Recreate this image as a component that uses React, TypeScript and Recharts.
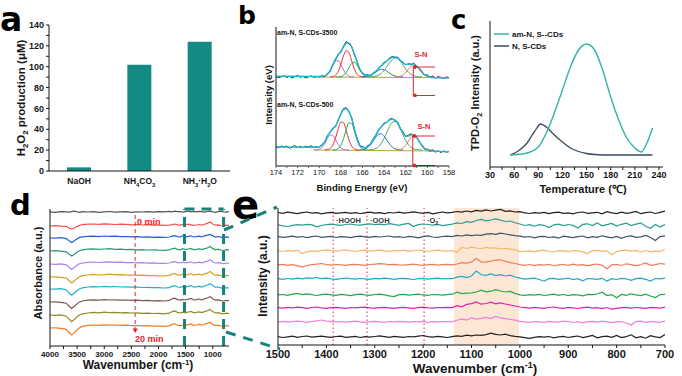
import React from 'react';
import { BarChart, Bar, LineChart, Line, XAxis, YAxis, ReferenceLine, ReferenceArea, ReferenceDot } from 'recharts';

const FONT = '"Liberation Sans", Arial, Helvetica, sans-serif';
const INK = '#151515';
type Pt = [number, number];

/* ---------------- panel a ---------------- */
const aCategories = ['NaOH', 'NH4CO3', 'NH3·H2O'];
const aProduction = [3.5, 102, 124];
const aYTicks = [0, 10, 20, 30, 40, 50, 60, 70, 80, 90, 100, 110, 120, 130, 140];

/* ---------------- panel b ---------------- */
const bXTicks = [158, 159, 160, 161, 162, 163, 164, 165, 166, 167, 168, 169, 170, 171, 172, 173, 174];
const bGrid = [174, 173.75, 173.5, 173.25, 173, 172.75, 172.5, 172.25, 172, 171.75, 171.5, 171.25, 171, 170.75, 170.5, 170.25, 170,
  169.75, 169.5, 169.25, 169, 168.75, 168.5, 168.25, 168, 167.75, 167.5, 167.25, 167, 166.75, 166.5, 166.25, 166,
  165.75, 165.5, 165.25, 165, 164.75, 164.5, 164.25, 164, 163.75, 163.5, 163.25, 163, 162.75, 162.5, 162.25, 162,
  161.75, 161.5, 161.25, 161, 160.75, 160.5, 160.25, 160, 159.75, 159.5, 159.25, 159, 158.75, 158.5, 158.25, 158];
const bTopMeasured = [0.5, -0.8, 0.3, 1.2, -0.5, 0.8, -1.0, 0.4, 1.5, -0.3, 0.6, -0.9, 0.2, 1.1, -0.4, 0.7, 0.1,
  1.3, 0.2, 3.5, 5.2, 12.5, 17, 23, 24.5, 31, 35.5, 33, 30.5, 22, 15.8, 7, 4.2,
  2.0, 2.2, 1.0, 4.4, 5.2, 9.5, 10.8, 14.8, 15.5, 19, 20.5, 19.4, 20, 16, 15, 12,
  13.4, 12.4, 14, 10.5, 9, 5.5, 1.8, 2.2, -0.5, 1.0, -1.2, 0.5, -0.4, -1.6, 0.2, -0.8];
const bBotMeasured = [3.5, 2.2, 4.1, 2.8, 3.9, 1.8, 3.2, 4.4, 2.5, 3.6, 2.1, 3.8, 2.9, 4.2, 2.4, 3.5, 3.0,
  5.5, 7.6, 14.5, 17.2, 22, 23.1, 30.2, 35.5, 41.5, 42.3, 37.8, 32.5, 20.2, 12, 4.2, 3.5,
  1.8, 4.5, 5.8, 11.4, 14.7, 21, 22.8, 27, 27.5, 30.8, 31.5, 29.4, 28, 21.2, 18.1, 13.4,
  14.8, 16.2, 14.5, 13.5, 7.6, 5.2, 0.6, 0.8, -1.5, 0.2, -2.1, -0.8, -2.5, -0.9, -2.2, -1.2];
const bTopEnvelope: Pt[] = [[174, 0.8], [173, 0.8], [172, 0.7], [171, 0.6], [170.5, 0.5], [170, 0.6], [169.75, 0.7], [169.5, 1.2], [169.25, 2.8], [169, 6.3], [168.75, 12], [168.5, 17.8], [168.25, 22], [168, 25.5], [167.75, 30], [167.5, 33.8], [167.25, 34.1], [167, 30], [166.75, 22.9], [166.5, 14.9], [166.25, 8.1], [166, 3.8], [165.75, 2.0], [165.5, 1.5], [165.25, 2.1], [165, 3.6], [164.75, 5.9], [164.5, 8.7], [164.25, 11.4], [164, 13.9], [163.75, 16.1], [163.5, 18.1], [163.25, 19.6], [163, 20.1], [162.75, 19], [162.5, 16.6], [162.25, 14.2], [162, 12.6], [161.75, 12.6], [161.5, 13.1], [161.25, 12.9], [161, 11.1], [160.75, 8.0], [160.5, 4.6], [160.25, 2.1], [160, 0.6], [159.75, -0.2], [159.5, -0.6], [159, -0.8], [158.5, -0.9], [158, -1]];
const bTopPurple: Pt[] = [[170, 0], [169.75, 0.1], [169.5, 0.6], [169.25, 2.3], [169, 5.9], [168.75, 11.3], [168.5, 15.8], [168.25, 16.3], [168, 12.3], [167.75, 6.9], [167.5, 2.8], [167.25, 0.8], [167, 0.2], [166.75, 0]];
const bTopRed: Pt[] = [[169, 0], [168.75, 0.4], [168.5, 1.8], [168.25, 5.5], [168, 12.7], [167.75, 21.4], [167.5, 26.5], [167.25, 24.2], [167, 16.2], [166.75, 8.0], [166.5, 2.9], [166.25, 0.8], [166, 0.2], [165.75, 0]];
const bTopGreen1: Pt[] = [[168.5, 0], [168.25, 0.1], [168, 0.4], [167.75, 1.6], [167.5, 4.5], [167.25, 9.1], [167, 13.6], [166.75, 14.9], [166.5, 12.0], [166.25, 7.1], [166, 3.1], [165.75, 1.0], [165.5, 0.2], [165.25, 0]];
const bTopBlue: Pt[] = [[166, 0], [165.75, 0.3], [165.5, 0.7], [165.25, 1.7], [165, 3.2], [164.75, 5.1], [164.5, 6.8], [164.25, 7.7], [164, 7.3], [163.75, 5.8], [163.5, 3.9], [163.25, 2.2], [163, 1.0], [162.75, 0.4], [162.5, 0.1], [162.25, 0]];
const bTopGreen2: Pt[] = [[165.25, 0], [165, 0.3], [164.75, 0.8], [164.5, 1.9], [164.25, 3.7], [164, 6.6], [163.75, 10.3], [163.5, 14.2], [163.25, 17.4], [163, 19], [162.75, 18.3], [162.5, 15.6], [162.25, 11.9], [162, 8.0], [161.75, 4.8], [161.5, 2.5], [161.25, 1.2], [161, 0.5], [160.75, 0.2], [160.5, 0]];
const bTopOrange: Pt[] = [[163, 0], [162.75, 0.3], [162.5, 0.9], [162.25, 2.3], [162, 4.6], [161.75, 7.8], [161.5, 10.6], [161.25, 11.7], [161, 10.6], [160.75, 7.8], [160.5, 4.6], [160.25, 2.3], [160, 0.9], [159.75, 0.3], [159.5, 0]];
const bTopBaseline: Pt[] = [[170.5, 0], [159.25, -0.6]];

const bBotEnvelope: Pt[] = [[174, 3], [173, 3], [172, 2.8], [171, 2.8], [170.5, 2.8], [170, 3.3], [169.75, 4.8], [169.5, 8.3], [169.25, 13.5], [169, 18], [168.75, 21], [168.5, 24], [168.25, 29.5], [168, 36.2], [167.75, 40.6], [167.5, 41.3], [167.25, 38.5], [167, 31.5], [166.75, 21], [166.5, 11], [166.25, 4.9], [166, 2.6], [165.75, 2.4], [165.5, 3.7], [165.25, 6.4], [165, 10.6], [164.75, 15.5], [164.5, 20], [164.25, 23.6], [164, 26], [163.75, 28], [163.5, 29.8], [163.25, 30.9], [163, 30.1], [162.75, 27], [162.5, 21.9], [162.25, 17], [162, 14.1], [161.75, 13.9], [161.5, 15.1], [161.25, 15.2], [161, 12.7], [160.75, 8.3], [160.5, 4.1], [160.25, 1.3], [160, -0.1], [159.75, -0.6], [159.5, -1], [159, -1.3], [158.5, -1.6], [158, -1.8]];
const bBotPurple: Pt[] = [[170.5, 0], [170.25, 0.2], [170, 0.8], [169.75, 2.6], [169.5, 6.3], [169.25, 11.3], [169, 14.9], [168.75, 14.5], [168.5, 10.3], [168.25, 5.4], [168, 2.1], [167.75, 0.6], [167.5, 0.1], [167.25, 0]];
const bBotRed: Pt[] = [[169.5, 0], [169.25, 0.3], [169, 1.4], [168.75, 4.8], [168.5, 11.8], [168.25, 21.2], [168, 28], [167.75, 27.2], [167.5, 19.3], [167.25, 10.1], [167, 3.9], [166.75, 1.1], [166.5, 0.2], [166.25, 0]];
const bBotGreen1: Pt[] = [[168.75, 0], [168.5, 0.3], [168.25, 1.4], [168, 4.7], [167.75, 11.5], [167.5, 20.7], [167.25, 27.3], [167, 26.5], [166.75, 18.9], [166.5, 9.9], [166.25, 3.8], [166, 1.1], [165.75, 0.2], [165.5, 0]];
const bBotBlue: Pt[] = [[166.25, 0], [166, 0.4], [165.75, 1.1], [165.5, 2.6], [165.25, 5.3], [165, 9.1], [164.75, 13.1], [164.5, 15.8], [164.25, 16.1], [164, 13.8], [163.75, 9.9], [163.5, 6.0], [163.25, 3.0], [163, 1.3], [162.75, 0.5], [162.5, 0.1], [162.25, 0]];
const bBotGreen2: Pt[] = [[165.5, 0], [165.25, 0.2], [165, 0.6], [164.75, 1.6], [164.5, 3.5], [164.25, 6.8], [164, 11.6], [163.75, 17.6], [163.5, 23.4], [163.25, 27.6], [163, 28.6], [162.75, 26.2], [162.5, 21.2], [162.25, 15.1], [162, 9.5], [161.75, 5.3], [161.5, 2.6], [161.25, 1.1], [161, 0.4], [160.75, 0.1], [160.5, 0]];
const bBotOrange: Pt[] = [[163, 0], [162.75, 0.2], [162.5, 0.6], [162.25, 2.0], [162, 4.8], [161.75, 8.9], [161.5, 13.0], [161.25, 14.7], [161, 13.0], [160.75, 8.9], [160.5, 4.8], [160.25, 2.0], [160, 0.6], [159.75, 0.2], [159.5, 0]];
const bBotBaseline: Pt[] = [[170.5, 0], [159.25, -1]];

/* ---------------- panel c ---------------- */
const cTicks = [30, 45, 60, 75, 90, 105, 120, 135, 150, 165, 180, 195, 210, 225, 240];
const cAmNS: Pt[] = [[55, 12], [70, 13], [80, 15], [90, 20], [100, 34], [110, 54], [120, 77], [130, 100], [140, 117], [150, 123], [160, 117], [170, 97], [180, 70], [190, 47], [200, 29], [210, 19], [218, 15], [225, 24], [232, 39]];
const cNS: Pt[] = [[55, 12], [65, 16], [75, 23], [85, 35], [93, 43], [100, 40], [110, 32], [120, 25], [130, 19], [140, 15.5], [150, 13.5], [160, 12.5], [180, 12], [200, 12], [232, 12]];

/* ---------------- panel d ---------------- */
const dTicks = [1000, 1250, 1500, 1750, 2000, 2250, 2500, 2750, 3000, 3250, 3500, 3750, 4000];
const dWavenumbers = [4000, 3900, 3800, 3700, 3650, 3600, 3550, 3500, 3450, 3400, 3300, 3200, 3100, 3000, 2900, 2800, 2700, 2600, 2500, 2400, 2300, 2200, 2100, 2000, 1900, 1800, 1750, 1700, 1650, 1600, 1550, 1500, 1450, 1400, 1350, 1300, 1250, 1200, 1150, 1100, 1050, 1000, 950, 900, 850, 800, 750, 700];
const dOffsets = [134, 120, 108, 95, 82, 69, 57, 44, 31, 18];
const dColors = ['#555555', '#f0524a', '#2160d0', '#2b9b6b', '#b27ee6', '#d6a020', '#1ab3d3', '#7d5a52', '#8c8c22', '#f77b1f'];
const dT0 = [0.2, -0.3, 0.4, 0.1, -0.2, 0.3, 0.8, 0.2, -0.3, 0.4, 0.0, 0.3, -0.4, 0.2, 0.5, -0.2, 0.1, 0.4, -0.3, 0.2, 0.0, 0.3, -0.2, 0.4, 0.1, 0.6, 0.2, 0.9, 0.3, 0.5, -0.2, 0.4, 0.8, 0.2, 0.6, 0.1, 0.7, 0.3, -0.2, 0.5, 0.9, 0.2, -0.3, 0.4, 0.8, 0.1, -0.2, 0.5];
const dT1 = [0.0, 0.3, -0.2, -0.5, -2.0, -3.2, -2.0, -0.4, 0.8, 1.4, 1.8, 2.0, 1.6, 2.2, 1.8, 1.5, 1.9, 1.6, 1.2, 1.5, 1.0, 1.3, 0.8, 1.0, 0.6, 0.9, 1.4, 2.0, 1.2, 0.8, 1.6, 1.0, 1.8, 1.2, 0.6, 1.0, 1.5, 0.8, 1.8, 2.6, 4.0, 2.0, 0.8, 1.2, 0.5, 0.2, 0.8, 0.4];
const dT2 = [0.0, -0.2, 0.3, -0.6, -2.8, -4.5, -2.8, -0.8, 0.6, 1.2, 1.6, 1.9, 1.4, 2.0, 1.6, 1.8, 1.3, 1.5, 1.1, 1.4, 0.9, 1.2, 0.7, 0.9, 0.6, 1.0, 1.8, 2.4, 1.4, 1.0, 2.0, 1.2, 1.6, 2.2, 1.0, 1.4, 1.8, 1.2, 2.2, 2.8, 3.6, 2.4, 1.0, 1.5, 0.8, 0.4, 1.2, 0.6];
const dT3 = [0.0, 0.3, -0.2, -0.8, -3.0, -5.0, -3.2, -1.0, 0.5, 1.2, 1.8, 2.2, 1.6, 2.0, 2.3, 1.7, 1.9, 1.4, 1.6, 1.2, 1.4, 1.0, 1.2, 0.8, 0.7, 1.2, 2.2, 2.8, 1.6, 1.2, 2.4, 1.4, 2.0, 2.6, 1.2, 1.6, 2.2, 1.4, 2.4, 3.0, 4.6, 2.6, 1.2, 1.8, 1.0, 0.6, 1.4, 0.8];
const dT4 = [0.0, -0.3, 0.2, -0.8, -3.2, -5.5, -3.4, -1.2, 0.4, 1.0, 1.6, 2.0, 1.5, 1.8, 2.2, 1.6, 1.8, 1.3, 1.5, 1.1, 1.3, 0.9, 1.1, 0.7, 0.6, 1.0, 1.8, 2.4, 1.4, 1.0, 1.8, 1.2, 1.6, 2.0, 1.0, 1.4, 1.8, 1.2, 2.2, 2.6, 4.2, 2.0, 1.0, 1.4, 0.8, 0.4, 1.0, 0.6];
const dT5 = [0.0, 0.2, -0.3, -1.0, -3.5, -6.0, -3.8, -1.4, 0.4, 1.4, 2.0, 2.6, 2.0, 2.4, 2.8, 2.2, 2.4, 1.9, 2.0, 1.6, 1.8, 1.4, 1.5, 1.2, 1.0, 1.6, 3.0, 3.6, 2.2, 1.8, 2.6, 2.0, 2.6, 3.2, 1.8, 2.4, 2.8, 2.0, 3.2, 3.8, 5.5, 3.2, 1.6, 2.2, 1.4, 0.8, 1.6, 1.2];
const dT6 = [0.0, -0.2, 0.3, -1.0, -3.8, -6.2, -4.0, -1.5, 0.3, 1.2, 2.0, 2.4, 2.0, 2.6, 2.2, 2.5, 2.0, 2.2, 1.8, 1.9, 1.5, 1.7, 1.3, 1.4, 1.0, 1.4, 2.6, 3.4, 2.0, 1.6, 2.4, 1.8, 2.6, 3.4, 1.8, 2.2, 2.8, 2.0, 3.0, 4.0, 5.2, 3.4, 1.6, 2.0, 1.2, 0.8, 1.4, 1.0];
const dT7 = [0.0, 0.2, -0.4, -1.2, -4.0, -6.5, -4.2, -1.6, 0.2, 1.0, 1.8, 2.2, 1.8, 2.4, 2.0, 2.2, 1.8, 2.0, 1.6, 1.8, 1.4, 1.6, 1.2, 1.3, 1.0, 1.6, 3.2, 3.8, 2.4, 1.8, 2.6, 2.0, 2.8, 3.6, 2.0, 2.4, 3.0, 2.2, 3.2, 4.0, 5.4, 3.2, 1.8, 2.2, 1.4, 1.0, 1.6, 1.2];
const dT8 = [0.0, -0.3, 0.2, -1.2, -4.2, -6.8, -4.4, -1.8, 0.2, 1.2, 2.0, 2.6, 2.2, 2.8, 2.4, 2.6, 2.2, 2.3, 2.0, 2.1, 1.7, 1.9, 1.5, 1.6, 1.2, 1.8, 3.4, 4.0, 2.6, 2.0, 2.8, 2.2, 3.0, 3.6, 2.2, 2.6, 3.2, 2.4, 3.4, 4.2, 5.6, 3.4, 2.0, 2.4, 1.6, 1.2, 1.8, 1.4];
const dT9 = [0.0, 0.2, -0.3, -1.3, -4.5, -7.0, -4.6, -1.8, 0.4, 1.6, 2.6, 3.0, 2.6, 3.2, 2.8, 3.0, 2.6, 2.8, 2.4, 2.5, 2.1, 2.3, 1.9, 2.0, 1.6, 2.2, 3.6, 4.2, 2.8, 2.4, 3.0, 2.6, 3.4, 4.0, 2.6, 3.0, 3.6, 2.8, 3.8, 4.6, 5.8, 3.6, 2.4, 2.8, 2.0, 1.6, 2.2, 2.4];
const dTraces = [dT0, dT1, dT2, dT3, dT4, dT5, dT6, dT7, dT8, dT9];

/* ---------------- panel e ---------------- */
const eTicks = [700, 750, 800, 850, 900, 950, 1000, 1050, 1100, 1150, 1200, 1250, 1300, 1350, 1400, 1450, 1500];
const eWavenumbers = [1500, 1490, 1480, 1470, 1460, 1450, 1440, 1430, 1420, 1410,
  1400, 1390, 1380, 1370, 1360, 1350, 1340, 1330, 1320, 1310,
  1300, 1290, 1280, 1270, 1260, 1250, 1240, 1230, 1220, 1210,
  1200, 1190, 1180, 1170, 1160, 1150, 1140, 1130, 1120, 1110,
  1100, 1090, 1080, 1070, 1060, 1050, 1040, 1030, 1020, 1010,
  1000, 990, 980, 970, 960, 950, 940, 930, 920, 910,
  900, 890, 880, 870, 860, 850, 840, 830, 820, 810,
  800, 790, 780, 770, 760, 750, 740, 730, 720, 710, 700];
const eOffsets = [132, 120, 108, 94, 80, 66, 50, 37, 23, 8];
const eColors = ['#222222', '#2a9d8f', '#3e5566', '#f3b76b', '#ef7b55', '#1ea7c9', '#25a84d', '#e020b4', '#f27fd9', '#222222'];
const eT0 = [0.5, -0.3, 0.8, 0.2, -0.6, 0.4, 1.0, -0.2, 0.3, -0.8, 0.2, 0.6, -0.4, 0.1, 0.7, -0.3, 0.4, -0.5, 0.2, 0.9, -0.1, 0.3, -0.6, 0.5, 0.0, 0.8, -0.2, 0.4, 1.2, 0.3, -0.4, 0.6, -0.8, 0.2, 1.0, 0.1, 0.6, 1.5, 0.8, 2.0, 1.2, 2.6, 1.8, 3.2, 2.0, 2.8, 3.6, 1.6, 2.2, 1.0, 1.4, 0.2, -0.5, 0.4, -0.2, 0.6, -0.6, 0.3, 0.8, -0.4, 0.2, -0.8, 0.5, 1.0, -0.3, 0.2, 0.7, -0.9, 1.4, 0.1, -0.6, 0.9, -0.3, 0.4, 1.6, -0.7, 0.3, 1.0, -0.5, 0.6, 1.8];
const eT1 = [0.2, -0.8, -1.5, -0.4, 0.3, -0.2, 0.6, 0.1, -1.8, -0.5, 0.4, 0.8, 0.2, -0.3, 0.5, 1.0, 0.2, -0.2, 0.7, 1.2, 0.4, 0.9, 0.1, 1.3, 0.6, -0.4, 0.8, 1.5, -1.6, 0.3, 1.0, 0.5, -0.2, 0.7, -0.6, 0.2, 0.8, 2.2, 1.5, 3.4, 2.6, 4.5, 5.6, 4.2, 5.0, 6.2, 4.8, 3.5, 4.0, 2.2, 1.0, -0.5, 0.3, -1.2, 0.4, -0.3, -2.5, 0.2, 0.8, -0.6, 0.5, -0.4, -3.0, 0.6, 1.2, -0.5, 2.0, -0.8, 0.4, 1.6, -1.0, 0.7, 1.8, -0.6, 0.9, 2.2, -1.2, -3.2, 0.5, -2.0, 0.4];
const eT2 = [0.3, -0.4, 0.2, 0.8, -0.2, 0.5, -0.6, 0.4, 1.0, -0.3, 0.2, 0.7, -0.5, 0.4, 0.1, -0.6, 0.3, 0.9, 0.2, -0.4, 0.6, 0.0, 0.5, 1.0, -0.2, 0.3, -0.5, 0.6, 0.2, -0.8, 0.4, 1.1, 0.0, -0.3, 0.5, 0.8, 0.4, 1.6, 1.0, 2.2, 1.4, 2.0, 1.6, 2.8, 3.4, 2.6, 3.8, 3.0, 2.2, 1.4, 0.8, -0.2, 0.5, -0.8, 0.3, 0.6, -0.5, 0.2, -1.2, 0.8, 0.1, -0.6, 0.4, 1.0, -0.9, 0.3, -0.3, 1.2, 0.2, -0.8, 0.6, -1.4, 0.5, 1.1, -0.4, 0.2, 1.5, -0.5, -3.5, 0.4, 1.2];
const eT3 = [0.4, -0.5, 0.3, -0.2, 0.8, -2.6, -0.8, 0.2, -0.3, 0.6, 1.2, 0.3, -0.4, 0.5, 1.1, 0.2, -0.5, 0.4, 0.8, -0.2, 0.3, 0.9, 0.1, -0.4, 0.6, 0.2, 0.8, -0.3, 0.5, 1.0, 0.2, -0.5, 0.4, 0.9, 0.1, -0.3, 0.5, -1.4, 3.5, 2.5, 3.8, 3.0, 2.4, 3.6, 2.8, 3.2, 2.0, 2.6, 1.8, 1.2, -0.6, -0.4, 0.2, -0.8, 0.3, 0.8, -0.5, -1.0, 0.4, 0.2, -0.6, 0.5, 0.1, -0.9, -2.6, 0.3, 0.6, -0.4, 0.2, -3.8, -0.5, 0.4, 0.8, -0.2, 0.3, -1.0, 0.5, -0.8, 0.2, -0.6, 1.8];
const eT4 = [0.2, 0.6, -0.3, 0.4, -0.6, -2.0, -0.5, 0.3, 0.8, 1.5, 0.4, -0.2, 0.5, 0.1, -0.4, 0.3, 0.7, 0.2, -0.3, 0.5, 0.9, 1.4, 1.0, 0.3, 0.6, 0.1, -0.2, 0.4, 0.8, 0.2, -0.5, 0.3, 0.7, -0.2, 0.4, 0.6, 0.2, 1.0, 2.4, 1.8, 3.0, 6.5, 3.2, 2.8, 4.0, 4.8, 5.2, 3.6, 2.4, 1.5, 0.4, -0.3, 0.5, -0.6, 0.3, -0.2, 0.6, -1.0, 0.2, 0.5, -0.4, 0.8, -0.2, 0.3, -0.8, 0.4, 1.0, -0.3, -3.8, 0.2, 0.6, -0.5, 1.2, 0.3, -0.8, 0.5, 2.0, -0.3, 0.4, 1.5, 0.8];
const eT5 = [0.3, -0.4, 0.5, -0.2, 0.8, 0.2, 1.2, 0.6, 1.5, 0.4, 0.9, 0.2, -0.3, 0.4, 1.0, 0.3, -0.2, 0.5, 0.1, -0.4, 0.6, 0.2, 0.8, 0.3, -0.3, 0.4, 0.7, 0.1, -0.5, 0.3, 0.6, -0.2, 0.4, 0.8, 0.2, 0.5, 0.3, 1.8, 2.6, 1.4, 3.0, 8.0, 4.2, 3.6, 5.0, 3.4, 4.4, 3.0, 3.8, 2.0, 0.8, -0.2, 0.4, 0.8, -0.5, -2.2, 0.3, 0.6, -0.4, 0.2, 1.0, -0.6, 0.3, -1.8, 0.5, 0.2, -0.4, 0.7, -2.0, 0.3, -0.5, 0.6, 0.2, -1.4, 0.4, 0.8, -0.3, -2.0, 0.5, 0.2, 0.9];
const eT6 = [0.2, 0.5, -0.3, 0.8, 1.6, 0.4, 1.2, 0.3, -0.5, 0.4, 0.9, 0.2, -0.4, 0.6, 0.2, -0.6, 0.3, 0.8, 0.1, -0.3, 0.5, 0.9, 0.2, -0.8, -1.6, 0.3, 0.6, -0.2, 0.4, 0.8, 0.2, -0.4, 0.5, 0.3, -0.2, 0.4, 0.8, 2.8, 1.4, 1.8, 2.2, 3.0, 4.8, 3.2, 3.8, 5.4, 4.0, 3.0, 3.6, 1.6, 0.2, -0.4, 0.3, -0.2, 0.6, -0.5, 0.2, 0.8, -0.3, 0.5, -0.6, 0.4, 0.2, -0.8, 0.6, 0.3, 1.0, 2.8, -0.5, 0.3, -2.8, 0.6, -0.4, 1.2, 0.2, -0.6, 0.8, -1.0, -2.6, 0.4, 0.6];
const eT7 = [0.3, -0.2, 0.6, 0.2, 0.8, 0.4, -0.3, 0.5, 1.0, 0.2, -0.4, 0.3, 0.7, 0.2, -0.3, 0.5, 0.1, 0.6, 0.9, 0.2, -0.2, 0.4, 0.7, 0.1, -0.4, 0.3, 0.6, 0.2, -0.3, 0.4, 0.8, 0.1, -0.2, 0.5, 0.3, 0.6, 0.4, 2.4, 1.2, 3.6, 4.4, 6.0, 3.8, 4.5, 5.8, 4.2, 5.2, 4.0, 3.0, 2.0, 1.0, 0.4, -0.2, 0.6, 0.2, -0.4, 0.5, 1.0, 0.2, -0.3, 0.6, 0.2, -0.5, 0.4, 0.8, -0.2, 0.3, -0.6, 0.5, -1.2, -0.4, 0.3, 0.6, -0.2, 0.5, 0.2, -0.4, 0.6, 0.3, -0.2, 0.8];
const eT8 = [0.2, 0.6, -0.2, 0.4, 0.8, 0.3, -0.3, 0.5, 1.2, 2.0, 0.8, 0.4, 0.1, 0.5, -0.2, 0.4, 0.8, 0.2, -0.4, 0.3, 0.6, 0.1, -0.3, 0.5, 0.2, 0.7, 0.3, -0.2, 0.5, 0.2, 0.6, -0.3, 0.4, 0.1, 0.5, 0.3, 0.2, 1.8, 3.2, 2.0, 4.2, 2.8, 3.6, 4.6, 3.4, 5.5, 4.2, 3.4, 2.6, 1.8, 0.6, 0.2, -0.3, 0.5, 0.1, -0.4, 0.6, 0.2, -0.2, 1.0, 0.3, -0.5, 0.4, -0.8, 0.3, 0.6, -0.2, 0.8, 0.1, -0.6, 0.3, 0.5, -1.0, -3.0, 0.4, 0.8, -0.4, 0.6, 0.2, -0.3, 1.2];
const eT9 = [0.3, -0.5, 0.2, 0.8, -0.3, 0.5, 1.0, -0.2, 0.4, 0.9, 0.2, -0.4, 0.5, 0.8, -0.3, 0.2, 0.6, -0.5, 0.3, -0.2, 0.5, 1.2, 0.4, -0.3, 0.6, 0.2, -0.4, 0.5, 0.2, 0.8, 1.5, 0.4, -0.2, 0.6, 0.2, -0.5, 0.3, 1.2, 0.6, 1.8, 1.2, 2.0, 1.6, 2.4, 3.8, 2.6, 2.0, 2.8, 1.4, 0.6, 0.2, -0.6, -1.4, -0.4, 0.3, -0.2, 0.5, -0.8, 0.2, 0.6, -0.5, 0.3, 1.0, -0.6, 0.4, 1.5, -0.8, 0.3, 0.8, -0.4, 1.6, -0.6, 0.4, 2.2, -0.8, 0.3, -1.2, 1.4, 0.2, -0.5, 2.5];
const eTraces = [eT0, eT1, eT2, eT3, eT4, eT5, eT6, eT7, eT8, eT9];

/* ---------------- helpers ---------------- */
function buildRows(series: Record<string, Pt[]>) {
  const map = new Map<number, any>();
  Object.keys(series).forEach((key) => {
    series[key].forEach(([x, y]) => {
      const row = map.get(x) || { x };
      row[key] = y;
      map.set(x, row);
    });
  });
  return Array.from(map.values()).sort((a, b) => a.x - b.x);
}
const zip = (xs: number[], ys: number[]): Pt[] => xs.map((x, i) => [x, ys[i]] as Pt);

function chem(s: string, fs: number) {
  const parts = s.split(/(\d+)/).filter((p) => p !== '');
  let shifted = false;
  return parts.map((p, i) => {
    if (/^\d+$/.test(p)) {
      shifted = true;
      return <tspan key={i} dy={fs * 0.3} fontSize={fs * 0.68}>{p}</tspan>;
    }
    const dy = shifted ? -fs * 0.3 : 0;
    shifted = false;
    return <tspan key={i} dy={dy}>{p}</tspan>;
  });
}

const aData = aCategories.map((name, i) => ({ name, value: aProduction[i] }));
const bTopRows = buildRows({ data: zip(bGrid, bTopMeasured), env: bTopEnvelope, p1: bTopPurple, p2: bTopRed, p3: bTopGreen1, p4: bTopBlue, p5: bTopGreen2, p6: bTopOrange, bl: bTopBaseline });
const bBotRows = buildRows({ data: zip(bGrid, bBotMeasured), env: bBotEnvelope, p1: bBotPurple, p2: bBotRed, p3: bBotGreen1, p4: bBotBlue, p5: bBotGreen2, p6: bBotOrange, bl: bBotBaseline });
const cRows = buildRows({ am: cAmNS, ns: cNS });
const dRows = dWavenumbers.map((x, i) => {
  const r: any = { x };
  dTraces.forEach((t, k) => { r['s' + k] = dOffsets[k] + t[i]; });
  return r;
});
const eRows = eWavenumbers.map((x, i) => {
  const r: any = { x };
  eTraces.forEach((t, k) => { r['s' + k] = eOffsets[k] + t[i]; });
  return r;
});

const bComp = [
  { key: 'bl', color: '#bca53a' },
  { key: 'p1', color: '#b46fd6' },
  { key: 'p2', color: '#ee2c2c' },
  { key: 'p3', color: '#1fb24a' },
  { key: 'p4', color: '#2f6fd6' },
  { key: 'p5', color: '#4aa564' },
  { key: 'p6', color: '#f27a5c' },
];
const RED = '#e3262a';
const TEAL_DASH = '#17837d';
const axisLine = { stroke: INK, strokeWidth: 1 };

const ATick = (props: any) => {
  const { x, y, payload } = props;
  return (
    <text x={x} y={y + 11} textAnchor="middle" fontSize={8.5} fontWeight={700} fill={INK} fontFamily={FONT}>
      {chem(String(payload.value), 8.5)}
    </text>
  );
};

function BPanel(props: { rows: any[]; top: boolean }) {
  const { rows, top } = props;
  const dom = top ? [-19, 50] : [-16, 54];
  const sn = top ? { y: 10, low: -18.5, x: 161.3 } : { y: 14, low: -15.5, x: 161.35 };
  return (
    <LineChart width={220} height={top ? 97 : 101} data={rows} margin={{ top: top ? 27 : 1, right: 11, bottom: top ? 1 : 0, left: 0 }}>
      <XAxis dataKey="x" type="number" domain={[158, 174]} reversed allowDataOverflow ticks={bXTicks} interval={0}
        height={top ? 0 : 30} tick={top ? false : { fontSize: 7.5, fill: INK, fontFamily: FONT }} tickSize={top ? 0 : 2} tickLine={!top}
        tickFormatter={(v: number) => (v % 2 === 0 ? String(v) : '')} axisLine={axisLine} />
      <XAxis xAxisId="t" type="number" orientation="top" domain={[158, 174]} reversed height={0} tick={false} tickLine={false} axisLine={axisLine} />
      <YAxis type="number" domain={dom} allowDataOverflow width={36} tick={false} tickLine={false} axisLine={axisLine} />
      <YAxis yAxisId="r" type="number" orientation="right" domain={dom} width={0} tick={false} tickLine={false} axisLine={axisLine} />
      {bComp.map((c) => (
        <Line key={c.key} dataKey={c.key} stroke={c.color} strokeWidth={1} dot={false} type="monotone" connectNulls isAnimationActive={false} />
      ))}
      <Line dataKey="data" stroke="#2b2b2b" strokeWidth={1} dot={false} type="linear" connectNulls isAnimationActive={false} />
      <Line dataKey="env" stroke="#1eb8d6" strokeWidth={1.4} dot={false} type="monotone" connectNulls isAnimationActive={false} />
      <ReferenceLine segment={[{ x: sn.x, y: sn.y }, { x: sn.x, y: dom[0] }]} stroke={RED} strokeWidth={1} ifOverflow="visible" />
      <ReferenceLine segment={[{ x: sn.x, y: sn.y }, { x: 159.3, y: sn.y }]} stroke={RED} strokeWidth={1} ifOverflow="visible" />
      <ReferenceLine segment={[{ x: sn.x, y: sn.low }, { x: 159.3, y: sn.low }]} stroke={RED} strokeWidth={1} ifOverflow="visible" />
      <ReferenceDot x={sn.x - 0.15} y={sn.y} r={1.5} fill={RED} stroke={RED} />
      <ReferenceDot x={sn.x - 0.15} y={sn.low} r={1.5} fill={RED} stroke={RED} />
    </LineChart>
  );
}

export default function App() {
  return (
    <div style={{ position: 'absolute', left: 0, top: 0, width: 682, height: 376, background: '#fff', overflow: 'hidden', fontFamily: FONT }}>
      {/* panel a */}
      <div style={{ position: 'absolute', left: 0, top: 0 }}>
        <BarChart width={240} height={196} data={aData} margin={{ top: 25, right: 10, bottom: 0, left: 0 }}>
          <XAxis dataKey="name" type="category" height={25} tickSize={0} tickLine={false} tick={<ATick />} interval={0} axisLine={axisLine} />
          <XAxis xAxisId="t" dataKey="name" type="category" orientation="top" height={0} tick={false} tickLine={false} axisLine={axisLine} />
          <YAxis type="number" domain={[0, 140]} ticks={aYTicks} interval={0} allowDataOverflow width={49} tickSize={3}
            tickFormatter={(v: number) => (v % 20 === 0 ? String(v) : '')}
            tick={{ fontSize: 9, fontWeight: 700, fill: INK, fontFamily: FONT }} tickLine={{ stroke: INK }} axisLine={axisLine} />
          <YAxis yAxisId="r" orientation="right" type="number" domain={[0, 140]} width={0} tick={false} tickLine={false} axisLine={axisLine} />
          <Bar dataKey="value" fill="#138a84" barSize={24} isAnimationActive={false} />
        </BarChart>
      </div>

      {/* panel b */}
      <div style={{ position: 'absolute', left: 240, top: 0 }}>
        <BPanel rows={bTopRows} top={true} />
      </div>
      <div style={{ position: 'absolute', left: 240, top: 95 }}>
        <BPanel rows={bBotRows} top={false} />
      </div>

      {/* panel c */}
      <div style={{ position: 'absolute', left: 450, top: 0 }}>
        <LineChart width={225} height={196} data={cRows} margin={{ top: 21, right: 12, bottom: 0, left: 0 }}>
          <XAxis dataKey="x" type="number" domain={[30, 245]} allowDataOverflow ticks={cTicks} interval={0} height={29} tickSize={3}
            tickFormatter={(v: number) => (v % 30 === 0 ? String(v) : '')}
            tick={{ fontSize: 9, fontWeight: 700, fill: INK, fontFamily: FONT }} tickLine={{ stroke: INK }} axisLine={axisLine} />
          <XAxis xAxisId="t" type="number" orientation="top" domain={[30, 245]} height={0} tick={false} tickLine={false} axisLine={axisLine} />
          <YAxis type="number" domain={[0, 146]} allowDataOverflow width={40} tick={false} tickLine={false} axisLine={axisLine} />
          <YAxis yAxisId="r" type="number" orientation="right" domain={[0, 146]} width={0} tick={false} tickLine={false} axisLine={axisLine} />
          <Line dataKey="ns" stroke="#3b4a5e" strokeWidth={1.3} dot={false} type="monotone" connectNulls isAnimationActive={false} />
          <Line dataKey="am" stroke="#35b2a3" strokeWidth={1.4} dot={false} type="monotone" connectNulls isAnimationActive={false} />
        </LineChart>
      </div>

      {/* panel d */}
      <div style={{ position: 'absolute', left: 0, top: 190 }}>
        <LineChart width={240} height={186} data={dRows} margin={{ top: 19, right: 11, bottom: 0, left: 0 }}>
          <XAxis dataKey="x" type="number" domain={[700, 4000]} reversed allowDataOverflow ticks={dTicks} interval={0} height={30} tickSize={3}
            tickFormatter={(v: number) => (v % 500 === 0 ? String(v) : '')}
            tick={{ fontSize: 8, fontWeight: 700, fill: INK, fontFamily: FONT }} tickLine={{ stroke: INK }} axisLine={axisLine} />
          <XAxis xAxisId="t" type="number" orientation="top" domain={[700, 4000]} reversed height={0} tick={false} tickLine={false} axisLine={axisLine} />
          <YAxis type="number" domain={[0, 137]} allowDataOverflow width={50} tick={false} tickLine={false} axisLine={axisLine} />
          <YAxis yAxisId="r" type="number" orientation="right" domain={[0, 137]} width={0} tick={false} tickLine={false} axisLine={axisLine} />
          {dColors.map((c, k) => (
            <Line key={k} dataKey={'s' + k} stroke={c} strokeWidth={1.2} dot={false} type="linear" isAnimationActive={false} />
          ))}
          <ReferenceLine segment={[{ x: 2430, y: 131 }, { x: 2430, y: 16 }]} stroke={RED} strokeWidth={1} strokeDasharray="4 3" />
          <ReferenceDot x={2430} y={13} r={3} ifOverflow="visible"
            shape={(p: any) => <path d={`M${p.cx - 2.6},${p.cy - 4.5} L${p.cx + 2.6},${p.cy - 4.5} L${p.cx},${p.cy} Z`} fill={RED} />} />
          <ReferenceLine x={1520} stroke={TEAL_DASH} strokeWidth={3} strokeDasharray="10 7" ifOverflow="visible" />
          <ReferenceLine x={800} stroke={TEAL_DASH} strokeWidth={3} strokeDasharray="10 7" ifOverflow="visible" />
          <ReferenceLine segment={[{ x: 1520, y: 137 }, { x: 800, y: 137 }]} stroke={TEAL_DASH} strokeWidth={3} strokeDasharray="10 7" ifOverflow="visible" />
        </LineChart>
      </div>

      {/* panel e */}
      <div style={{ position: 'absolute', left: 250, top: 190 }}>
        <LineChart width={432} height={186} data={eRows} margin={{ top: 18, right: 17, bottom: 0, left: 0 }}>
          <XAxis dataKey="x" type="number" domain={[700, 1500]} reversed allowDataOverflow ticks={eTicks} interval={0} height={31} tickSize={3}
            tickFormatter={(v: number) => (v % 100 === 0 ? String(v) : '')}
            tick={{ fontSize: 11, fontWeight: 700, fill: INK, fontFamily: FONT }} tickLine={{ stroke: INK }} axisLine={axisLine} />
          <XAxis xAxisId="t" type="number" orientation="top" domain={[700, 1500]} reversed height={0} tick={false} tickLine={false} axisLine={axisLine} />
          <YAxis type="number" domain={[0, 137]} allowDataOverflow width={28} tick={false} tickLine={false} axisLine={axisLine} />
          <YAxis yAxisId="r" type="number" orientation="right" domain={[0, 137]} width={0} tick={false} tickLine={false} axisLine={axisLine} />
          <ReferenceArea x1={1002} x2={1136} fill="#fbe3cc" fillOpacity={0.85} stroke="none" />
          <ReferenceLine x={1386} stroke={RED} strokeWidth={1} strokeDasharray="1.5 2.5" />
          <ReferenceLine x={1316} stroke={RED} strokeWidth={1} strokeDasharray="1.5 2.5" />
          <ReferenceLine x={1198} stroke={RED} strokeWidth={1} strokeDasharray="1.5 2.5" />
          {eColors.map((c, k) => (
            <Line key={k} dataKey={'s' + k} stroke={c} strokeWidth={1.2} dot={false} type="linear" isAnimationActive={false} />
          ))}
        </LineChart>
      </div>

      {/* titles, letters, annotations */}
      <svg width={682} height={376} style={{ position: 'absolute', left: 0, top: 0, pointerEvents: 'none' }} fontFamily={FONT}>
        <g fontFamily='"DejaVu Sans", sans-serif' fontWeight={700} fill="#000">
          <text x={0} y={31} fontSize={33}>a</text>
          <text x={238} y={24} fontSize={25}>b</text>
          <text x={451} y={29} fontSize={26}>c</text>
          <text x={10} y={215} fontSize={29}>d</text>
          <text x={232} y={219} fontSize={40}>e</text>
        </g>
        <g fontWeight={700} fill={INK}>
          <text transform="translate(25,98) rotate(-90)" textAnchor="middle" fontSize={11.5}>{chem('H2O2 production (μM)', 11.5)}</text>
          <text transform="translate(272,95) rotate(-90)" textAnchor="middle" fontSize={9.5}>Intensity (eV)</text>
          <text x={362} y={191} textAnchor="middle" fontSize={9.5}>Binding Energy (eV)</text>
          <text transform="translate(479,93) rotate(-90)" textAnchor="middle" fontSize={11}>{chem('TPD-O2 Intensity (a.u.)', 11)}</text>
          <text x={583} y={193} textAnchor="middle" fontSize={11}>Temperature (℃)</text>
          <text transform="translate(42,273) rotate(-90)" textAnchor="middle" fontSize={11}>Absorbance (a.u.)</text>
          <text x={138} y={369} textAnchor="middle" fontSize={12}>
            <tspan>Wavenumber (cm</tspan><tspan dy={-4.5} fontSize={8}>-1</tspan><tspan dy={4.5}>)</tspan>
          </text>
          <text transform="translate(267,276) rotate(-90)" textAnchor="middle" fontSize={12}>Intensity (a.u.)</text>
          <text x={475} y={373} textAnchor="middle" fontSize={13.5}>
            <tspan>Wavenumber (cm</tspan><tspan dy={-5} fontSize={9}>-1</tspan><tspan dy={5}>)</tspan>
          </text>
          {/* panel b sub labels */}
          <text x={277} y={35} fontSize={7}>am-N, S-CDs-3500</text>
          <text x={277} y={107} fontSize={7}>am-N, S-CDs-500</text>
          <text x={421} y={57} textAnchor="middle" fontSize={7.5} fill={RED}>S-N</text>
          <text x={424} y={129} textAnchor="middle" fontSize={7.5} fill={RED}>S-N</text>
          {/* panel c legend */}
          <line x1={494} y1={34} x2={509} y2={34} stroke="#35b2a3" strokeWidth={1.5} />
          <text x={512} y={37} fontSize={8}>am-N, S--CDs</text>
          <line x1={494} y1={46} x2={509} y2={46} stroke="#3b4a5e" strokeWidth={1.5} />
          <text x={512} y={49} fontSize={8}>N, S-CDs</text>
          {/* panel d time labels */}
          <text x={137} y={225} fontSize={9} fill={RED}>0 min</text>
          <text x={135} y={342} fontSize={9} fill={RED}>20 min</text>
          {/* panel e species labels */}
          <text x={336} y={223} fontSize={7.5} fill="#333">·HOOH</text>
          <text x={370} y={223} fontSize={7.5} fill="#333">·OOH</text>
          <text x={427} y={223} fontSize={7.5} fill="#333">·O<tspan dy={2} fontSize={5.5}>2</tspan><tspan dy={-5} fontSize={5.5}>-</tspan></text>
        </g>
        {/* zoom call-out connectors from d to e */}
        <line x1={224} y1={230} x2={277} y2={207} stroke={TEAL_DASH} strokeWidth={3} strokeDasharray="10 8" />
        <line x1={226} y1={332} x2={280} y2={349} stroke={TEAL_DASH} strokeWidth={3} strokeDasharray="10 8" />
      </svg>
    </div>
  );
}
